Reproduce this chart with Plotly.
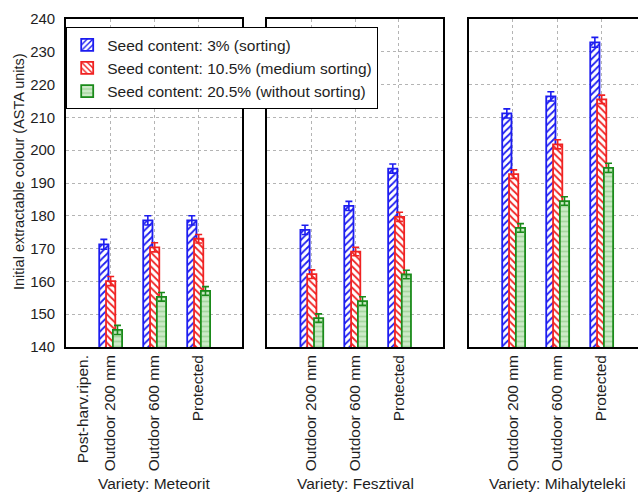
import plotly.graph_objects as go

# ---------------- data ----------------
treatments = ["Outdoor 200 mm", "Outdoor 600 mm", "Protected"]
treatment_pos = [1, 2, 3]
extra_label = "Post-harv.ripen."
extra_label_pos = 0.385

varieties = ["Variety: Meteorit", "Variety: Fesztival", "Variety: Mihalyteleki"]
series_names = ["Seed content: 3% (sorting)",
                "Seed content: 10.5% (medium sorting)",
                "Seed content: 20.5% (without sorting)"]

meteorit_3 = [171.3, 178.6, 178.6]
meteorit_105 = [160.1, 170.4, 173.0]
meteorit_205 = [145.2, 155.3, 157.1]

fesztival_3 = [175.7, 183.0, 194.4]
fesztival_105 = [162.2, 169.1, 179.7]
fesztival_205 = [148.8, 154.0, 162.1]

mihaly_3 = [211.2, 216.4, 232.9]
mihaly_105 = [192.7, 201.8, 215.5]
mihaly_205 = [176.3, 184.5, 194.6]

meteorit_err = [[1.5, 1.4, 1.4], [1.4, 1.4, 1.3], [1.4, 1.3, 1.3]]
fesztival_err = [[1.4, 1.4, 1.4], [1.3, 1.3, 1.4], [1.3, 1.3, 1.3]]
mihaly_err = [[1.4, 1.4, 1.5], [1.3, 1.4, 1.3], [1.3, 1.3, 1.4]]

panels = [
    [meteorit_3, meteorit_105, meteorit_205],
    [fesztival_3, fesztival_105, fesztival_205],
    [mihaly_3, mihaly_105, mihaly_205],
]
panel_errs = [meteorit_err, fesztival_err, mihaly_err]

# ---------------- style ----------------
FONT = "Liberation Sans, Arial, sans-serif"
TXT = "#1e1e1e"
line_colors = ["#1c1cf0", "#f02222", "#1a8a1a"]
bg_colors = ["white", "white", "#cdeac8"]
fg_colors = ["#1c1cf0", "#f02222", "#a6d7a0"]
shapes_pat = ["/", "\\", "-"]
bar_w = 0.21
offsets = [-0.245, -0.09, 0.065]

fig = go.Figure()
axis_ids = [("x", "y"), ("x2", "y2"), ("x3", "y3")]
for p, (vals3, errs3) in enumerate(zip(panels, panel_errs)):
    xa, ya = axis_ids[p]
    for s in range(3):
        fig.add_trace(go.Bar(
            x=treatment_pos, y=vals3[s],
            width=bar_w, offset=offsets[s],
            name=series_names[s], legendgroup=str(s), showlegend=(p == 0),
            marker=dict(color=bg_colors[s],
                        line=dict(color=line_colors[s], width=1.8),
                        pattern=dict(shape=shapes_pat[s], fgcolor=fg_colors[s],
                                     bgcolor=bg_colors[s], size=5,
                                     solidity=0.35, fillmode="replace")),
            error_y=dict(type="data", array=errs3[s], color=line_colors[s],
                         thickness=1.6, width=3.5),
            xaxis=xa, yaxis=ya,
        ))

grid_col = "#b4b4b4"
domains = [[0.0, 0.3077], [0.3519, 0.6587], [0.7045, 1.0]]
ranges = [[0, 4], [0, 4], [0, 3.84]]

layout = dict(
    width=638, height=493,
    margin=dict(l=66, r=0, t=19, b=146),
    paper_bgcolor="white", plot_bgcolor="white",
    barmode="overlay",
    font=dict(family=FONT, size=15, color=TXT),
    legend=dict(x=0.0, y=0.9756, xanchor="left", yanchor="top",
                bgcolor="white", bordercolor="black", borderwidth=1.2,
                font=dict(family=FONT, size=15.5, color=TXT),
                itemwidth=30, tracegroupgap=0),
    showlegend=True,
)

for p in range(3):
    xk = "xaxis" if p == 0 else f"xaxis{p+1}"
    yk = "yaxis" if p == 0 else f"yaxis{p+1}"
    ya = "y" if p == 0 else f"y{p+1}"
    xa = "x" if p == 0 else f"x{p+1}"
    if p == 0:
        tv = [extra_label_pos] + treatment_pos
        tt = [extra_label] + treatments
    else:
        tv = treatment_pos
        tt = treatments
    layout[xk] = dict(
        domain=domains[p], range=ranges[p], anchor=ya,
        tickmode="array", tickvals=tv, ticktext=tt, tickangle=-90,
        tickfont=dict(family=FONT, size=15.5, color=TXT),
        showgrid=False, zeroline=False, ticks="",
        minor=dict(tickmode="array", tickvals=treatment_pos, showgrid=True,
                   gridcolor=grid_col, griddash="dot", gridwidth=1, ticks=""),
        showline=True, mirror=True, linecolor="black", linewidth=1.6,
        fixedrange=True,
    )
    layout[yk] = dict(
        domain=[0, 1], range=[140, 240], anchor=xa,
        tickmode="linear", tick0=140, dtick=10,
        showgrid=True, gridcolor=grid_col, griddash="dot", gridwidth=1,
        zeroline=False, ticks="",
        showticklabels=(p == 0), ticklabelstandoff=6,
        tickfont=dict(family=FONT, size=15, color=TXT),
        showline=True, mirror=(p != 2), linecolor="black", linewidth=1.6,
    )
    if p > 0:
        layout[yk]["matches"] = "y"

fig.update_layout(**layout)

# panel titles
centers_px = [154, 355, 557]
for name, cpx in zip(varieties, centers_px):
    fig.add_annotation(text=name, xref="paper", yref="paper",
                       x=(cpx - 66) / 572, y=-(483 - 347) / 328,
                       xanchor="center", yanchor="middle", showarrow=False,
                       font=dict(family=FONT, size=15.5, color=TXT))

fig.add_annotation(text="Initial extractable colour (ASTA units)",
                   xref="paper", yref="paper", x=(19 - 66) / 572,
                   y=(347 - 172) / 328,
                   xanchor="center", yanchor="middle", textangle=-90,
                   showarrow=False, font=dict(family=FONT, size=14.5, color=TXT))

fig.write_html("out.html")
